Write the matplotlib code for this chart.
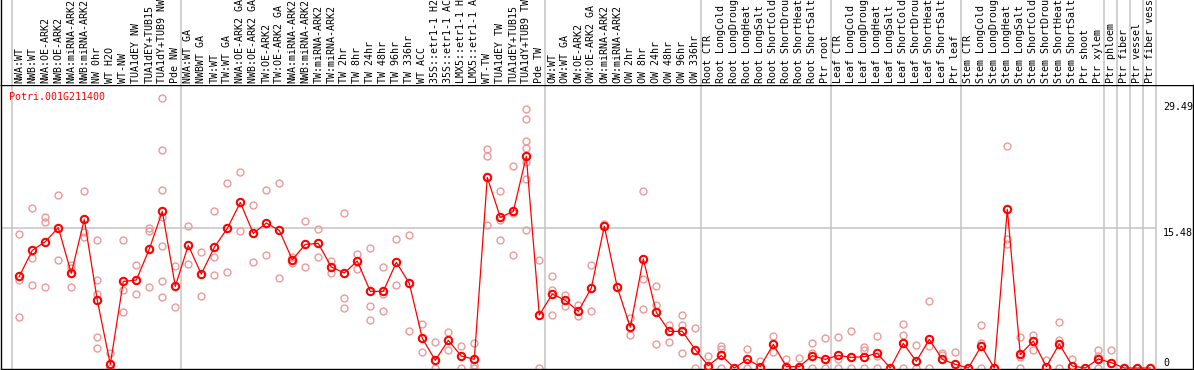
import matplotlib
matplotlib.use("Agg")
import matplotlib.pyplot as plt

gene = "Potri.001G211400"

labels = [
    "NWA:WT", "NWB:WT", "NWA:OE-ARK2", "NWB:OE-ARK2", "NWA:miRNA-ARK2",
    "NWB:miRNA-ARK2", "NW 0hr", "WT H2O", "WT-NW", "TUA1dEY NW",
    "TUA1dEY+TUB15", "TUA1dY+TUB9 NW", "Pde NW",
    "NWA:WT GA", "NWBWT GA", "TW:WT", "TW:WT GA", "NWA:OE-ARK2 GA",
    "NWB:OE-ARK2 GA", "TW:OE-ARK2", "TW:OE-ARK2 GA", "NWA:miRNA-ARK2",
    "NWB:miRNA-ARK2", "TW:miRNA-ARK2", "TW:miRNA-ARK2", "TW 2hr", "TW 8hr",
    "TW 24hr", "TW 48hr", "TW 96hr", "TW 336hr", "WT ACC", "35S::etr1-1 H2O",
    "35S::etr1-1 ACC", "LMX5::etr1-1 H2O", "LMX5::etr1-1 ACC", "WT-TW",
    "TUA1dEY TW", "TUA1dEY+TUB15", "TUA1dY+TUB9 TW", "Pde TW",
    "OW:WT", "OW:WT GA", "OW:OE-ARK2", "OW:OE-ARK2 GA", "OW:miRNA-ARK2",
    "OW:miRNA-ARK2", "OW 2hr", "OW 8hr", "OW 24hr", "OW 48hr", "OW 96hr",
    "OW 336hr",
    "Root CTR", "Root LongCold", "Root LongDrought", "Root LongHeat",
    "Root LongSalt", "Root ShortCold", "Root ShortDrought", "Root ShortHeat",
    "Root ShortSalt", "Ptr root",
    "Leaf CTR", "Leaf LongCold", "Leaf LongDrought", "Leaf LongHeat",
    "Leaf LongSalt", "Leaf ShortCold", "Leaf ShortDrought", "Leaf ShortHeat",
    "Leaf ShortSalt", "Ptr leaf",
    "Stem CTR", "Stem LongCold", "Stem LongDrought", "Stem LongHeat",
    "Stem LongSalt", "Stem ShortCold", "Stem ShortDrought", "Stem ShortHeat",
    "Stem ShortSalt", "Ptr shoot", "Ptr xylem",
    "Ptr phloem", "Ptr fiber", "Ptr vessel", "Ptr fiber vessel",
]

# mean expression per sample (red line)
means = [
    10.16, 13.04, 14.00, 15.55, 10.49, 16.47, 7.50, 0.41, 9.60, 9.75,
    13.18, 17.36, 9.05, 13.59, 10.41, 13.37, 15.47, 18.35, 14.92, 16.06,
    15.25, 12.00, 13.70, 13.81, 11.19, 10.53, 11.85, 8.49, 8.49, 11.71,
    9.38, 3.29, 0.85, 3.07, 1.33, 0.96, 21.12, 16.69, 17.36, 23.45,
    5.87, 8.20, 7.50, 6.28, 8.86, 15.70, 8.94, 4.51, 12.08, 6.17,
    4.06, 4.06, 2.03, 0.26, 1.40, 0.0, 0.96, 0.15, 2.62, 0.15,
    0.15, 1.37, 0.96, 1.40, 1.18, 1.26, 1.62, 0.0, 2.73, 0.74,
    3.18, 0.96, 0.41, 0.0, 2.44, 0.0, 17.58, 1.51, 2.99, 0.15,
    2.66, 0.22, 0.0, 1.00, 0.59, 0.0, 0.0, 0.0,
]

# individual replicates (pink circles)
replicates = [
    [14.81, 9.79, 5.61], [17.69, 12.22, 9.16], [16.73, 16.14, 8.94],
    [19.13, 11.93], [11.41, 11.12, 8.94], [19.57, 15.10, 14.55],
    [14.14, 9.71, 8.16, 3.40, 2.18], [1.70, 0.0, 0.0], [14.14, 8.64, 6.17],
    [11.37, 8.16], [15.47, 15.18, 8.94],
    [29.88, 24.12, 19.68, 16.73, 13.48, 9.60, 7.83], [11.30, 6.72],
    [15.73, 11.49], [12.81, 7.98], [17.36, 12.33, 10.27], [20.46, 10.60],
    [21.68, 15.18], [18.06, 11.74], [19.68, 12.48], [20.46, 9.97],
    [12.26, 11.67], [16.29, 11.19], [15.36, 12.30], [11.85, 10.53],
    [17.17, 7.76, 6.65], [12.63, 10.93], [13.29, 6.87, 5.28],
    [11.19, 8.24, 6.28], [14.29, 9.16], [14.70, 4.06], [4.84, 1.77],
    [2.88, 0.0], [3.99, 1.96], [2.44, 0.0], [2.77, 0.33, 0.0],
    [24.23, 23.49, 15.84], [19.57, 16.43, 14.18], [22.34, 17.14, 12.48],
    [28.69, 27.55, 25.15, 24.37, 22.79, 20.94, 15.25], [11.93, 0.0],
    [10.16, 8.60, 5.87], [8.12, 6.91], [6.98, 5.72], [11.37, 6.28],
    [15.92], [8.94], [5.54, 3.62], [19.57, 9.82, 6.54], [9.05, 6.98, 2.62],
    [4.76, 2.84], [5.87, 4.76, 1.62], [4.39, 0.0], [1.33, 0.0],
    [2.47, 2.07, 0.0], [0.0], [2.07, 0.0], [0.81, 0.0], [3.55, 1.81],
    [0.96, 0.0], [1.07, 0.0], [2.73, 1.62, 0.0], [3.29, 0.0],
    [3.40, 0.96, 0.0], [4.06, 0.0], [2.33, 1.96, 0.0], [3.51, 1.37, 0.0],
    [0.0], [4.84, 3.62, 0.0], [2.51, 0.0], [7.39, 2.40, 0.0], [1.70, 1.44],
    [1.74], [0.0], [4.76, 2.73, 0.0], [0.0], [24.56, 14.29, 13.74],
    [3.40, 1.26, 0.0], [3.66, 1.99], [0.85], [5.06, 3.10, 0.0], [1.00],
    [0.0], [1.96, 1.37, 0.0], [1.96], [0.0], [0.0], [0.0],
]

# first sample of each block (grey separators)
group_starts = [1, 14, 42, 54, 64, 74, 85, 86, 87, 88, 89]
ytick_values = [29.49, 15.48, 0]

W, H = 1194, 370
fig = plt.figure(figsize=(W / 100, H / 100), dpi=100)
mono = "DejaVu Sans Mono"
fs = 7.2

xmin = -0.408
xmax = xmin + 1192 / 13
ax = fig.add_axes([1 / W, 1 / H, 1192 / W, 284 / H])
ax.set_xlim(xmin, xmax)
ax.set_ylim(-0.11, 31.36)
ax.set_xticks([])
ax.set_yticks([])
for s in ax.spines.values():
    s.set_color("black")
    s.set_linewidth(1.0)

xs = list(range(1, len(labels) + 1))
grey = "#c4c4c4"
for g in group_starts:
    ax.axvline(g - 0.6, color=grey, lw=1.1, zorder=1)
ax.hlines(ytick_values[1], xmin, group_starts[-1] - 0.6, color=grey, lw=1.1, zorder=1)

for x, reps in zip(xs, replicates):
    ax.plot([x] * len(reps), reps, "o", ms=5.0, mfc="none", mec="#eb9a9a",
            mew=1.0, zorder=2)

ax.plot(xs, means, "-", color="red", lw=0.9, zorder=3)
ax.plot(xs, means, "o", ms=5.3, mfc="none", mec="red", mew=1.5, zorder=4)

# value labels on the right
tx = (1163 - 1) / 13 + xmin
for v in ytick_values:
    ax.text(tx, v, f"{v:g}" if v == 0 else f"{v:.2f}", family=mono, fontsize=fs,
            ha="left", va="bottom" if v == 0 else "top", color="black")

fig.text(9.5 / W, 1 - 97.3 / H, gene, family=mono, fontsize=fs, color="red",
         ha="left", va="center")

# sample names above the plot (long ones run off the top, as in the source)
lax = fig.add_axes([1 / W, 285 / H, 1192 / W, 85 / H])
lax.set_xlim(xmin, xmax)
lax.set_ylim(0, 1)
lax.set_xticks([])
lax.set_yticks([])
for k in ["top", "right", "bottom"]:
    lax.spines[k].set_visible(False)
lax.spines["left"].set_linewidth(1.0)
for g in group_starts:
    lax.axvline(g - 0.6, color=grey, lw=1.1)
for x, lab in zip(xs, labels):
    lax.text(x, 0.02, lab, rotation=90, ha="center", va="bottom",
             family=mono, fontsize=fs, color="black", clip_on=False)

fig.savefig("out.png", dpi=100)
